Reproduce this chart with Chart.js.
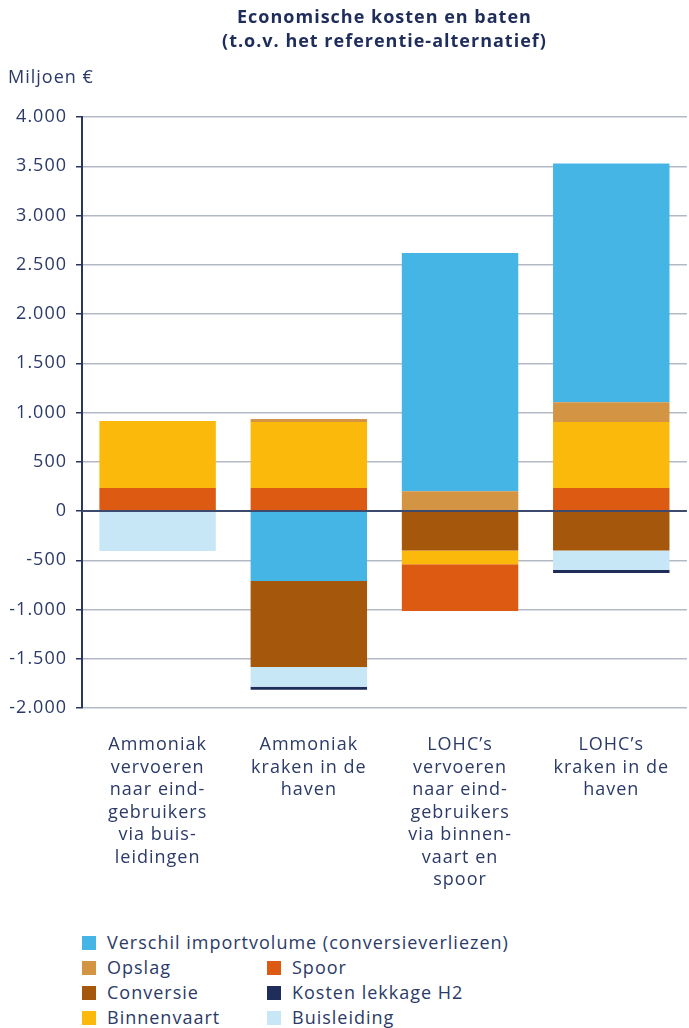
<!DOCTYPE html>
<html>
<head>
<meta charset="utf-8">
<script src="https://cdn.jsdelivr.net/npm/chart.js@4"></script>
<style>
  body { margin: 0; background: #fff; width: 689px; height: 1028px; position: relative; overflow: hidden; font-family: "Open Sans", sans-serif; }
  #wrap { position: absolute; left: 0; top: 0; width: 689px; height: 900px; }
  #legenda { position: absolute; left: 82px; top: 930px; color: #2b3a67; font-size: 18px; letter-spacing: 1px; }
  .item { position: absolute; white-space: nowrap; line-height: 25px; }
  .item span { display: inline-block; width: 14px; height: 14px; margin-right: 11px; vertical-align: -1px; }
</style>
</head>
<body>
<div id="wrap"><canvas id="grafiek"></canvas></div>
<div id="legenda"></div>
<script>
// categorieen (x-as labels, per regel)
var categorieen = [
  ["Ammoniak", "vervoeren", "naar eind-", "gebruikers", "via buis-", "leidingen"],
  ["Ammoniak", "kraken in de", "haven"],
  ["LOHC\u2019s", "vervoeren", "naar eind-", "gebruikers", "via binnen-", "vaart en", "spoor"],
  ["LOHC\u2019s", "kraken in de", "haven"]
];

// waarden in miljoen euro
var verschilImport = [0, -710, 2420, 2425];
var opslag         = [0, 30, 200, 200];
var spoor          = [233, 233, -475, 233];
var conversie      = [0, -875, -400, -400];
var lekkage        = [0, -30, 0, -30];
var binnenvaart    = [680, 670, -140, 670];
var buisleiding    = [-405, -200, 0, -200];

var yTicks = [-2000, -1500, -1000, -500, 0, 500, 1000, 1500, 2000, 2500, 3000, 3500, 4000];

var reeksen = {
  "Verschil importvolume (conversieverliezen)": { data: verschilImport, kleur: "#44b5e5" },
  "Opslag": { data: opslag, kleur: "#d39543" },
  "Spoor": { data: spoor, kleur: "#dd5a12" },
  "Conversie": { data: conversie, kleur: "#a5580b" },
  "Kosten lekkage H2": { data: lekkage, kleur: "#1f2d5a" },
  "Binnenvaart": { data: binnenvaart, kleur: "#fbb90c" },
  "Buisleiding": { data: buisleiding, kleur: "#c7e7f7" }
};

// volgorde van stapelen (positief vanaf 0 omhoog, negatief vanaf 0 omlaag)
var positief = ["Spoor", "Binnenvaart", "Opslag", "Verschil importvolume (conversieverliezen)"];
var negatief = ["Verschil importvolume (conversieverliezen)", "Conversie", "Binnenvaart", "Spoor", "Buisleiding", "Kosten lekkage H2"];

var datasets = [];
positief.forEach(function(naam){
  datasets.push({ label: naam, data: reeksen[naam].data.map(function(v){ return v > 0 ? v : null; }),
    backgroundColor: reeksen[naam].kleur, stack: "s" });
});
negatief.forEach(function(naam){
  datasets.push({ label: naam, data: reeksen[naam].data.map(function(v){ return v < 0 ? v : null; }),
    backgroundColor: reeksen[naam].kleur, stack: "s" });
});

function nlGetal(v){
  var s = Math.abs(v).toString().replace(/\B(?=(\d{3})+(?!\d))/g, ".");
  return (v < 0 ? "-" : "") + s;
}

var tekstKleur = "#2b3a67";

var extraTekst = {
  id: "extraTekst",
  beforeDraw: function(chart){
    chart.ctx.letterSpacing = "1px";
  },
  afterDatasetsDraw: function(chart){
    var c = chart.ctx, ca = chart.chartArea;
    var y0 = chart.scales.y.getPixelForValue(0);
    c.save();
    // nullijn over de staven
    c.strokeStyle = "#3d4a6e";
    c.lineWidth = 2;
    c.beginPath(); c.moveTo(ca.left, y0); c.lineTo(ca.right, y0); c.stroke();
    // titel
    c.fillStyle = "#1f2d5a";
    c.font = "bold 18px 'Open Sans'";
    c.textAlign = "center";
    c.textBaseline = "middle";
    var mx = (ca.left + ca.right) / 2;
    c.fillText("Economische kosten en baten", mx, 18);
    c.fillText("(t.o.v. het referentie-alternatief)", mx, 42);
    c.fillStyle = tekstKleur;
    c.font = "18px 'Open Sans'";
    c.textAlign = "left";
    c.fillText("Miljoen \u20ac", 8, 78);
    c.restore();
  }
};

Chart.defaults.font.family = "'Open Sans', sans-serif";
Chart.defaults.font.size = 18;
Chart.defaults.color = tekstKleur;

new Chart(document.getElementById("grafiek"), {
  type: "bar",
  data: { labels: categorieen, datasets: datasets },
  options: {
    responsive: true,
    maintainAspectRatio: false,
    animation: false,
    layout: { padding: { top: 117, left: 0, right: 0, bottom: 0 } },
    plugins: { legend: { display: false }, tooltip: { enabled: false }, title: { display: false } },
    datasets: { bar: { categoryPercentage: 0.77, barPercentage: 1 } },
    scales: {
      x: {
        stacked: true,
        grid: { display: false, drawTicks: false },
        border: { display: false },
        ticks: { padding: 26, font: { size: 18, lineHeight: 1.25 }, color: tekstKleur, maxRotation: 0 },
        afterFit: function(s){ s.height = 192; }
      },
      y: {
        stacked: true,
        min: -2000, max: 4000,
        afterBuildTicks: function(s){ s.ticks = yTicks.map(function(v){ return { value: v }; }); },
        afterFit: function(s){ s.width = 82; },
        border: { color: "#2a3560", width: 2 },
        grid: { color: "#b3b9c4", lineWidth: 1.5, tickLength: 6, tickColor: "#2a3560" },
        ticks: { padding: 9, color: tekstKleur, callback: function(v){ return nlGetal(v); } }
      }
    }
  },
  plugins: [extraTekst]
});

// legenda in html
var legPlek = [
  ["Verschil importvolume (conversieverliezen)", 0, 0],
  ["Opslag", 0, 25], ["Spoor", 185, 25],
  ["Conversie", 0, 50], ["Kosten lekkage H2", 185, 50],
  ["Binnenvaart", 0, 75], ["Buisleiding", 185, 75]
];
var leg = document.getElementById("legenda");
legPlek.forEach(function(p){
  var d = document.createElement("div");
  d.className = "item";
  d.style.left = p[1] + "px";
  d.style.top = p[2] + "px";
  d.innerHTML = '<span style="background:' + reeksen[p[0]].kleur + '"></span>' + p[0];
  leg.appendChild(d);
});
</script>
</body>
</html>
